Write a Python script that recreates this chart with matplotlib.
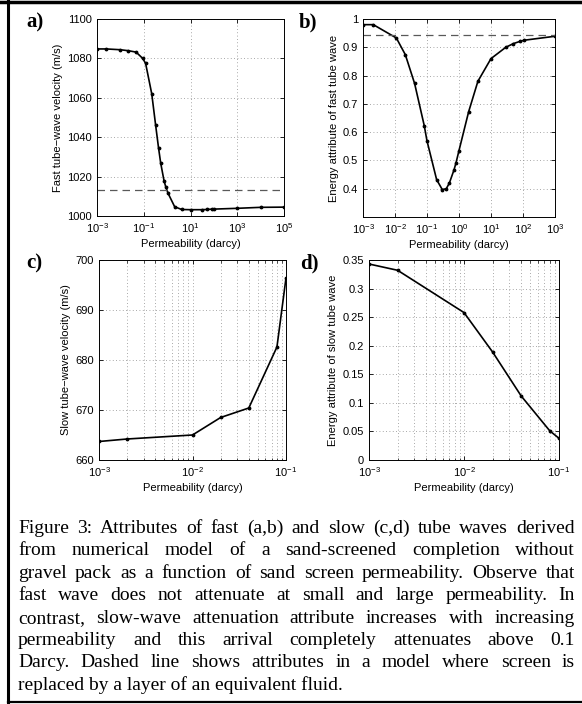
#!/usr/bin/env python3
"""Fast/slow tube-wave attributes vs sand screen permeability (Figure 3 recreation)."""

import matplotlib

matplotlib.use("Agg")
import matplotlib.pyplot as plt
from matplotlib.lines import Line2D
from matplotlib.ticker import LogLocator, NullFormatter, FixedLocator

plt.rcParams["font.family"] = ["Liberation Sans", "DejaVu Sans"]
plt.rcParams["mathtext.default"] = "regular"
plt.rcParams["axes.unicode_minus"] = True

W, H = 582, 704

# ---- data ----
perm_a = [1e-3, 2.5e-3, 1e-2, 2.2e-2, 4.7e-2, 9e-2, 0.12, 0.22, 0.32, 0.43, 0.53,
          0.74, 0.87, 1.1, 2.1, 4.2, 10, 30, 50, 85, 100, 1e3, 1e4, 1e5]
fast_vel = [1084.8, 1084.8, 1084.4, 1083.9, 1083.2, 1080.0, 1077.5, 1062.0, 1046.4,
            1034.5, 1026.9, 1017.8, 1014.9, 1011.5, 1004.7, 1003.3, 1003.2, 1003.2,
            1003.3, 1003.5, 1003.5, 1003.9, 1004.4, 1004.5]
fast_vel_fluid = 1013.3

perm_b = [1e-3, 2.1e-3, 1.1e-2, 2.1e-2, 4.1e-2, 8.2e-2, 0.1, 0.2, 0.3, 0.4, 0.5,
          0.7, 0.8, 1.0, 2.0, 3.9, 10, 29, 50, 81, 110, 1e3]
fast_energy = [0.98, 0.98, 0.933, 0.874, 0.772, 0.623, 0.569, 0.432, 0.397, 0.40,
               0.42, 0.467, 0.49, 0.535, 0.672, 0.78, 0.86, 0.90, 0.913, 0.921,
               0.925, 0.939]
fast_energy_fluid = 0.943

perm_slow = [1e-3, 2e-3, 1e-2, 2e-2, 4e-2, 8e-2, 1e-1]
slow_vel = [663.7, 664.2, 665.0, 668.5, 670.4, 682.6, 696.4]
slow_energy = [0.343, 0.332, 0.258, 0.189, 0.112, 0.051, 0.038]

caption = [
    "Figure 3:  Attributes of fast (a,b) and slow (c,d) tube waves derived",
    "from numerical model of a sand-screened completion without",
    "gravel pack as a function of sand screen permeability. Observe that",
    "fast wave does not attenuate at small and large permeability. In",
    "contrast, slow-wave attenuation attribute increases with increasing",
    "permeability and this arrival completely attenuates above 0.1",
    "Darcy. Dashed line shows attributes in a model where screen is",
    "replaced by a layer of an equivalent fluid.",
]

GRID = dict(color="0.55", linestyle=(0, (1, 3)), linewidth=0.6)
FS = 8


def box(left, top, right, bottom):
    return [left / W, 1 - bottom / H, (right - left) / W, (bottom - top) / H]


def style_axes(ax, minor):
    ax.set_xscale("log")
    ax.tick_params(direction="in", length=3, width=0.6, labelsize=FS, top=True, right=True)
    ax.tick_params(which="minor", direction="in", length=1.8, width=0.5, top=True)
    for s in ax.spines.values():
        s.set_linewidth(0.7)
    ax.grid(True, which="major", **GRID)
    if minor:
        ax.xaxis.set_minor_locator(LogLocator(base=10, subs=range(2, 10)))
        ax.xaxis.set_minor_formatter(NullFormatter())
        ax.grid(True, which="minor", axis="x", **GRID)
    else:
        ax.xaxis.set_minor_locator(FixedLocator([]))
    ax.set_xlabel("Permeability (darcy)", fontsize=FS, labelpad=3)


def draw_justified(fig, lines, x0, x1, base0, dy, **kw):
    renderer = fig.canvas.get_renderer()
    for i, line in enumerate(lines):
        y = 1 - (base0 + i * dy) / H
        words = line.split()
        if i == len(lines) - 1:
            fig.text(x0 / W, y, line, va="baseline", **kw)
            continue
        texts = [fig.text(0, y, w, va="baseline", **kw) for w in words]
        widths = [t.get_window_extent(renderer).width for t in texts]
        gap = max((x1 - x0 - sum(widths)) / (len(words) - 1), 2.5)
        x = x0
        for t, w in zip(texts, widths):
            t.set_x(x / W)
            x += w + gap


fig = plt.figure(figsize=(W / 100, H / 100), dpi=100)
fig.patch.set_facecolor("white")

line_kw = dict(color="black", linewidth=1.2, marker=".", markersize=3.5)
dash_kw = dict(color="0.35", linestyle=(0, (6, 4)), linewidth=0.9)

# a) fast tube-wave velocity
ax = fig.add_axes(box(97, 19, 284, 216))
ax.plot(perm_a, fast_vel, **line_kw)
ax.axhline(fast_vel_fluid, **dash_kw)
ax.set_xlim(1e-3, 1e5)
ax.set_ylim(1000, 1100)
ax.set_xticks([1e-3, 1e-1, 1e1, 1e3, 1e5])
ax.set_yticks(range(1000, 1101, 20))
style_axes(ax, minor=False)
ax.set_ylabel("Fast tube\u2212wave velocity (m/s)", fontsize=FS, labelpad=3)

# b) fast wave energy
ax = fig.add_axes(box(363, 19, 555, 217))
ax.plot(perm_b, fast_energy, **line_kw)
ax.axhline(fast_energy_fluid, **dash_kw)
ax.set_xlim(1e-3, 1e3)
ax.set_ylim(0.3, 1.0)
ax.set_xticks([1e-3, 1e-1, 1e1, 1e3])
ax.set_yticks([0.4, 0.5, 0.6, 0.7, 0.8, 0.9, 1.0])
ax.set_yticklabels(["0.4", "0.5", "0.6", "0.7", "0.8", "0.9", "1"])
style_axes(ax, minor=False)
ax.set_ylabel("Energy attribute of fast tube wave", fontsize=FS, labelpad=3)

# c) slow tube-wave velocity
ax = fig.add_axes(box(99, 260, 286, 460))
ax.plot(perm_slow, slow_vel, **line_kw)
ax.set_xlim(1e-3, 1e-1)
ax.set_ylim(660, 700)
ax.set_xticks([1e-3, 1e-2, 1e-1])
ax.set_yticks(range(660, 701, 10))
style_axes(ax, minor=True)
ax.set_ylabel("Slow tube\u2212wave velocity (m/s)", fontsize=FS, labelpad=3)

# d) slow wave energy
ax = fig.add_axes(box(369, 260, 559, 460))
ax.plot(perm_slow, slow_energy, **line_kw)
ax.set_xlim(1e-3, 1e-1)
ax.set_ylim(0, 0.35)
ax.set_xticks([1e-3, 1e-2, 1e-1])
ax.set_yticks([0, 0.05, 0.1, 0.15, 0.2, 0.25, 0.3, 0.35])
ax.set_yticklabels(["0", "0.05", "0.1", "0.15", "0.2", "0.25", "0.3", "0.35"])
style_axes(ax, minor=True)
ax.set_ylabel("Energy attribute of slow tube wave", fontsize=FS, labelpad=3)

# panel letters
for lab, x, y in [("a)", 26, 22), ("b)", 299, 22), ("c)", 26, 263), ("d)", 300, 263)]:
    fig.text(x / W, 1 - y / H, lab, fontsize=15, fontweight="bold",
             family="Liberation Serif", va="center", ha="left")

# caption
draw_justified(fig, caption, 18, 575, 533, 22.4, fontsize=14, family="Liberation Serif")

# frame
fig.add_artist(Line2D([7.5 / W, 7.5 / W], [0, 1], transform=fig.transFigure, color="black", lw=2.2))
fig.add_artist(Line2D([0, 1], [1 - 1.5 / H, 1 - 1.5 / H], transform=fig.transFigure, color="black", lw=2.5))
fig.add_artist(Line2D([7.5 / W, 1], [1 - 702 / H, 1 - 702 / H], transform=fig.transFigure, color="black", lw=1.6))

fig.savefig("out.png", dpi=100, facecolor="white")
plt.close(fig)
